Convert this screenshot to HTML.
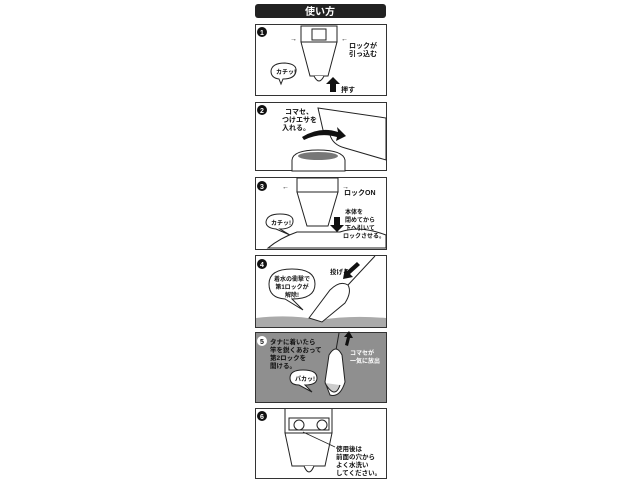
<!DOCTYPE html>
<html><head><meta charset="utf-8"><style>
html,body{margin:0;padding:0;background:#fff;width:640px;height:480px;overflow:hidden}
svg{display:block}
text{font-family:"Liberation Sans","Noto Sans CJK JP",sans-serif;font-weight:bold;fill:#111}
</style></head><body>
<svg width="640" height="480" viewBox="0 0 640 480">
<rect width="640" height="480" fill="#fff"/>
<rect x="255" y="4" width="131" height="14" rx="3" fill="#222"/>
<text x="320" y="15" font-size="10" text-anchor="middle" style="fill:#fff">使い方</text>

<g fill="none" stroke="#333" stroke-width="1">
<rect x="255.5" y="24.5" width="131" height="71"/>
<rect x="255.5" y="102.5" width="131" height="68"/>
<rect x="255.5" y="177.5" width="131" height="72"/>
<rect x="255.5" y="255.5" width="131" height="72"/>
<rect x="255.5" y="332.5" width="131" height="70" fill="#8f8f8f"/>
<rect x="255.5" y="408.5" width="131" height="70"/>
</g>

<!-- panel 1 -->
<circle cx="262" cy="32" r="5" fill="#111"/><text x="262" y="35" font-size="7" text-anchor="middle" style="fill:#fff">1</text>
<g fill="#fff" stroke="#222" stroke-width="1">
<path d="M301 42 L337 42 L328 76 L310 76 Z"/>
<rect x="301" y="26" width="36" height="16"/>
<rect x="312" y="29" width="14" height="11"/>
<path d="M314 76 Q319 86 324 76"/>
<path d="M271 71 Q272 63 285 63 Q297 64 296 71 Q295 79 283 79 L281 84 L279 79 Q271 78 271 71Z"/>
</g>
<text x="276" y="74" font-size="6">カチッ!</text>
<text x="290" y="41" font-size="7">→</text><text x="341" y="41" font-size="7">←</text>
<text x="349" y="48" font-size="7">ロックが</text><text x="349" y="56" font-size="7">引っ込む</text>
<path d="M330 92 L330 84 L326 84 L333 77 L340 84 L336 84 L336 92Z" fill="#111"/>
<text x="341" y="92" font-size="7">押す</text>

<!-- panel 2 -->
<circle cx="262" cy="110" r="5" fill="#111"/><text x="262" y="113" font-size="7" text-anchor="middle" style="fill:#fff">2</text>
<text x="285" y="114" font-size="7">コマセ、</text><text x="282" y="122" font-size="7">つけエサを</text><text x="282" y="130" font-size="7">入れる。</text>
<path d="M318 108 L386 118 L386 160 L345 148 Q333 145 330 135 L323 130 Z" fill="#fff" stroke="#222"/>
<path d="M302 137 Q320 126 338 132 L337 127 L346 136 L336 141 L337 137 Q320 132 304 140Z" fill="#111"/>
<path d="M292 160 Q293 150 318 150 Q343 150 345 160 L345 171 L292 171Z" fill="#fff" stroke="#222"/>
<ellipse cx="318" cy="156" rx="20" ry="4" fill="#777"/>

<!-- panel 3 -->
<circle cx="262" cy="186" r="5" fill="#111"/><text x="262" y="189" font-size="7" text-anchor="middle" style="fill:#fff">3</text>
<g fill="#fff" stroke="#222">
<path d="M297 232 Q280 238 268 248 L386 248 L386 235 Q360 225 340 232 Z"/>
<path d="M297 192 L338 192 L328 226 L307 226 Z"/>
<rect x="297" y="178" width="41" height="14"/>
<path d="M266 222 Q267 214 280 214 Q294 214 293 222 Q292 229 280 229 L290 235 L276 229 Q266 228 266 222Z"/>
</g>
<text x="271" y="225" font-size="6">カチッ!</text>
<text x="282" y="189" font-size="7">←</text><text x="342" y="189" font-size="7">→</text>
<text x="344" y="195" font-size="7">ロックON</text>
<text x="345" y="214" font-size="6">本体を</text><text x="345" y="222" font-size="6">閉めてから</text><text x="345" y="230" font-size="6">下へ引いて</text><text x="343" y="238" font-size="6">ロックさせる。</text>
<path d="M334 217 L334 225 L330 225 L337 232 L344 225 L340 225 L340 217Z" fill="#111"/>

<!-- panel 4 -->
<circle cx="262" cy="264" r="5" fill="#111"/><text x="262" y="267" font-size="7" text-anchor="middle" style="fill:#fff">4</text>
<path d="M256 318 Q290 314 320 320 Q350 315 386 318 L386 327 L256 327Z" fill="#aaa"/>
<path d="M269 284 Q269 269 292 269 Q315 269 315 284 Q315 299 292 299 L303 310 L285 299 Q269 298 269 284Z" fill="#fff" stroke="#222"/>
<text x="292" y="281" font-size="6" text-anchor="middle">着水の衝撃で</text>
<text x="292" y="289" font-size="6" text-anchor="middle">第1ロックが</text>
<text x="292" y="297" font-size="6" text-anchor="middle">解除!</text>
<line x1="348" y1="285" x2="375" y2="256" stroke="#222"/>
<path d="M309 318 L330 290 Q340 280 348 285 Q352 292 345 303 L322 322 Z" fill="#fff" stroke="#222"/>
<text x="330" y="274" font-size="6.5">投げる</text>
<path d="M357 262 L347 271 L345 268 L343 279 L353 277 L350 274 L360 265Z" fill="#111"/>

<!-- panel 5 -->
<circle cx="262" cy="341" r="5" fill="#fff"/><text x="262" y="344" font-size="7" text-anchor="middle">5</text>
<text x="270" y="344" font-size="6.5">タナに着いたら</text><text x="270" y="352" font-size="6.5">竿を鋭くあおって</text><text x="270" y="360" font-size="6.5">第2ロックを</text><text x="270" y="368" font-size="6.5">開ける。</text>
<line x1="339" y1="333" x2="336" y2="350" stroke="#222"/>
<path d="M329 355 Q336 343 342 355 L345 382 Q340 398 330 395 L325 382 Z" fill="#fff" stroke="#222"/>
<path d="M325 383 Q335 400 340 385" fill="#ccc" stroke="#222"/>
<path d="M290 378 Q290 370 303 370 Q317 370 317 378 Q317 385 305 385 L312 392 L299 385 Q290 385 290 378Z" fill="#fff" stroke="#222"/>
<text x="295" y="381" font-size="6">パカッ!</text>
<path d="M345 345 L347 337 L344 337 L349 331 L353 338 L350 338 L348 346Z" fill="#111"/>
<text x="350" y="355" font-size="6" style="fill:#fff">コマセが</text><text x="350" y="363" font-size="6" style="fill:#fff">一気に放出</text>

<!-- panel 6 -->
<circle cx="262" cy="416" r="5" fill="#111"/><text x="262" y="419" font-size="7" text-anchor="middle" style="fill:#fff">6</text>
<g fill="#fff" stroke="#222">
<line x1="285" y1="409" x2="285" y2="433"/><line x1="332" y1="409" x2="332" y2="433"/>
<path d="M285 433 L332 433 L325 466 L292 466 Z"/>
<rect x="289" y="418" width="40" height="12"/>
<circle cx="299" cy="425" r="5"/><circle cx="322" cy="425" r="5"/>
<path d="M304 466 Q309 478 314 466"/>
</g>
<line x1="303" y1="432" x2="335" y2="447" stroke="#222" stroke-width="0.7"/>
<text x="336" y="451" font-size="6.5">使用後は</text><text x="336" y="459" font-size="6.5">前面の穴から</text><text x="336" y="467" font-size="6.5">よく水洗い</text><text x="336" y="475" font-size="6.5">してください。</text>
</svg>
</body></html>
